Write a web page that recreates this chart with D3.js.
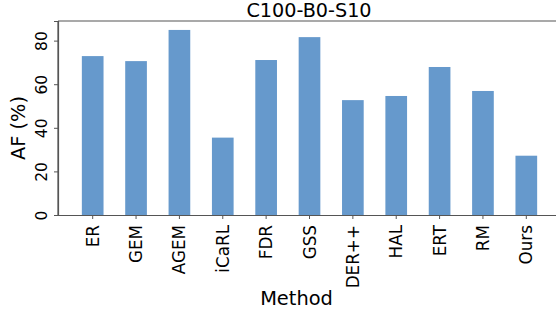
<!DOCTYPE html>
<html>
<head>
<meta charset="utf-8">
<script src="https://cdn.jsdelivr.net/npm/d3@7"></script>
<style>
  html, body { margin: 0; padding: 0; background: #fff; }
  svg { display: block; font-family: "DejaVu Sans", sans-serif; }
</style>
</head>
<body>
<svg id="chart" width="556" height="313"></svg>
<script>
const methods = ["ER", "GEM", "AGEM", "iCaRL", "FDR", "GSS", "DER++", "HAL", "ERT", "RM", "Ours"];
const afValues = [72.9, 70.6, 84.9, 35.5, 71.1, 81.6, 52.7, 54.6, 67.9, 56.9, 27.2];
const yTicks = [0, 20, 40, 60, 80];

const svg = d3.select("#chart");
const plotLeft = 58, plotRight = 561, plotTop = 21, plotBottom = 215;
const axisColor = "#555";
const fontFamily = "DejaVu Sans, sans-serif";

const x = d3.scaleBand()
    .domain(methods)
    .range([plotLeft, plotRight])
    .paddingInner(0.5)
    .paddingOuter(0.55);

const y = d3.scaleLinear()
    .domain([0, 89])
    .range([plotBottom, plotTop]);

// bars
svg.append("g")
    .selectAll("rect")
    .data(methods)
    .enter().append("rect")
    .attr("x", d => x(d))
    .attr("width", x.bandwidth())
    .attr("y", (d, i) => y(afValues[i]))
    .attr("height", (d, i) => y(0) - y(afValues[i]))
    .attr("fill", "#6699cc");

// frame
svg.append("line").attr("x1", plotLeft).attr("x2", plotLeft).attr("y1", plotTop).attr("y2", plotBottom)
    .attr("stroke", axisColor).attr("stroke-width", 1.2);
svg.append("line").attr("x1", plotLeft).attr("x2", plotRight + 2).attr("y1", plotTop).attr("y2", plotTop)
    .attr("stroke", axisColor).attr("stroke-width", 1.2);

// y axis
const yAxis = svg.append("g")
    .attr("transform", `translate(${plotLeft},0)`)
    .call(d3.axisLeft(y).tickValues(yTicks).tickSize(4).tickPadding(3))
    .attr("font-family", fontFamily);
yAxis.select(".domain").attr("stroke", axisColor).attr("stroke-width", 1.2);
yAxis.selectAll(".tick line").attr("stroke", axisColor);
yAxis.selectAll(".tick text")
    .attr("font-size", 15.5)
    .attr("fill", "#000")
    .attr("text-anchor", "middle")
    .attr("x", 0).attr("dy", 0)
    .attr("transform", "translate(-11.5,0) rotate(-90)");

// x axis
const xAxis = svg.append("g")
    .attr("transform", `translate(0,${plotBottom})`)
    .call(d3.axisBottom(x).tickSize(4).tickSizeOuter(0))
    .attr("font-family", fontFamily);
xAxis.select(".domain").attr("stroke", axisColor).attr("stroke-width", 1.2);
xAxis.selectAll(".tick line").attr("stroke", axisColor);
xAxis.selectAll(".tick text")
    .attr("font-size", 16.8)
    .attr("fill", "#000")
    .attr("text-anchor", "end")
    .attr("x", 0).attr("y", 0)
    .attr("dy", "0.36em")
    .attr("transform", "translate(0,10) rotate(-90)");

// title and labels
svg.append("text")
    .attr("x", 309).attr("y", 16.5)
    .attr("text-anchor", "middle")
    .attr("font-size", 19.2)
    .text("C100-B0-S10");

svg.append("text")
    .attr("transform", "translate(25,128) rotate(-90)")
    .attr("text-anchor", "middle")
    .attr("font-size", 19.4)
    .text("AF (%)");

svg.append("text")
    .attr("x", 296.5).attr("y", 305)
    .attr("text-anchor", "middle")
    .attr("font-size", 19.4)
    .text("Method");
</script>
</body>
</html>
